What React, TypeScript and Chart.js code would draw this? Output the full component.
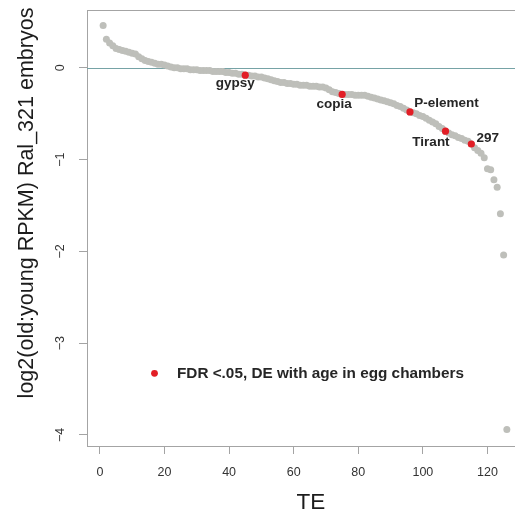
import { useEffect, useRef } from "react";
import { Chart, registerables } from "chart.js";

Chart.register(...registerables);

// log2(old:young RPKM) per transposable element, ranked from highest to lowest
const teValues = [
  0.46, 0.31, 0.27, 0.24, 0.21, 0.2, 0.19, 0.18, 0.17, 0.16,
  0.15, 0.12, 0.1, 0.08, 0.07, 0.06, 0.05, 0.04, 0.04, 0.03,
  0.02, 0.01, 0.0, 0.0, -0.01, -0.01, -0.01, -0.02, -0.02, -0.02,
  -0.03, -0.03, -0.03, -0.03, -0.04, -0.04, -0.04, -0.04, -0.05, -0.05,
  -0.06, -0.06, -0.07, -0.07, -0.08, -0.08, -0.09, -0.09, -0.1, -0.1,
  -0.11, -0.12, -0.13, -0.14, -0.15, -0.16, -0.16, -0.17, -0.17, -0.18,
  -0.18, -0.19, -0.19, -0.19, -0.2, -0.2, -0.2, -0.21, -0.21, -0.22,
  -0.24, -0.26, -0.27, -0.28, -0.29, -0.29, -0.29, -0.29, -0.3, -0.3,
  -0.3, -0.3, -0.31, -0.32, -0.33, -0.34, -0.35, -0.36, -0.37, -0.38,
  -0.39, -0.41, -0.42, -0.44, -0.46, -0.48, -0.49, -0.5, -0.52, -0.53,
  -0.55, -0.57, -0.59, -0.61, -0.64, -0.66, -0.69, -0.71, -0.73, -0.74,
  -0.76, -0.77, -0.79, -0.8, -0.83, -0.87, -0.9, -0.93, -0.98, -1.1,
  -1.11, -1.22, -1.3, -1.59, -2.04, -3.94,
];

// TEs significantly changed with age in egg chambers (rank position, name)
const highlightRanks = [45, 75, 96, 107, 115];
const highlightNames = ["gypsy", "copia", "P-element", "Tirant", "297"];

const xTicks = [0, 20, 40, 60, 80, 100, 120];
const xTickLabels = ["0", "20", "40", "60", "80", "100", "120"];
const yTicks = [-4, -3, -2, -1, 0];
const yTickLabels = ["\u22124", "\u22123", "\u22122", "\u22121", "0"];

const xTitle = "TE";
const yTitle = "log2(old:young RPKM) Ral_321 embryos";
const legendText = "FDR <.05, DE with age in egg chambers";

const FONT = '"Liberation Sans", Arial, Helvetica, sans-serif';
const GREY = "rgb(190,191,186)";
const RED = "rgb(226,30,38)";
const FRAME = "#a4a4a4";
const ZERO_LINE = "rgb(118,163,166)";

// text placement of each TE name relative to its point (dx to text centre, dy to baseline)
const nameOffsets: Record<string, [number, number]> = {
  gypsy: [-10, 12],
  copia: [-8, 13.5],
  "P-element": [36.5, -5],
  Tirant: [-14.5, 15],
  "297": [16.5, -2.3],
};

const decorations = {
  id: "decorations",
  beforeDatasetsDraw(chart: any) {
    const { ctx, chartArea: a, scales } = chart;
    ctx.save();
    ctx.strokeStyle = FRAME;
    ctx.lineWidth = 1;
    ctx.strokeRect(Math.round(a.left) + 0.5, Math.round(a.top) + 0.5, a.right - a.left, a.bottom - a.top);
    const y0 = Math.round(scales.y.getPixelForValue(0)) + 0.5;
    ctx.strokeStyle = ZERO_LINE;
    ctx.beginPath();
    ctx.moveTo(a.left, y0);
    ctx.lineTo(a.right, y0);
    ctx.stroke();
    ctx.restore();
  },
  afterDraw(chart: any) {
    const { ctx, scales } = chart;
    const xs = scales.x;
    const ys = scales.y;
    ctx.save();

    // names of highlighted TEs
    ctx.fillStyle = "#262626";
    ctx.font = `bold 13.5px ${FONT}`;
    ctx.textAlign = "center";
    ctx.textBaseline = "alphabetic";
    highlightRanks.forEach((rank, i) => {
      const name = highlightNames[i];
      const [dx, dy] = nameOffsets[name];
      const px = xs.getPixelForValue(rank);
      const py = ys.getPixelForValue(teValues[rank - 1]);
      ctx.fillText(name, px + dx, py + dy);
    });

    // y tick labels, parallel to the axis
    ctx.fillStyle = "#333";
    ctx.font = `12.5px ${FONT}`;
    ctx.textBaseline = "middle";
    yTicks.forEach((v, i) => {
      ctx.save();
      ctx.translate(61, ys.getPixelForValue(v));
      ctx.rotate(-Math.PI / 2);
      ctx.fillText(yTickLabels[i], 0, 0);
      ctx.restore();
    });

    // axis titles
    ctx.fillStyle = "#1c1c1c";
    ctx.font = `21.5px ${FONT}`;
    ctx.save();
    ctx.translate(27, 203);
    ctx.rotate(-Math.PI / 2);
    ctx.fillText(yTitle, 0, 0);
    ctx.restore();
    ctx.font = `22.5px ${FONT}`;
    ctx.fillText(xTitle, 311, 503);

    // legend
    ctx.fillStyle = RED;
    ctx.beginPath();
    ctx.arc(154.5, 373.3, 3.4, 0, Math.PI * 2);
    ctx.fill();
    ctx.fillStyle = "#262626";
    ctx.font = `bold 15.3px ${FONT}`;
    ctx.textAlign = "left";
    ctx.textBaseline = "alphabetic";
    ctx.fillText(legendText, 177, 378);

    ctx.restore();
  },
};

export default function App() {
  const canvasRef = useRef<HTMLCanvasElement | null>(null);

  useEffect(() => {
    const canvas = canvasRef.current;
    if (!canvas) return;
    Chart.defaults.font.family = FONT;

    const allPoints = teValues.map((v, i) => ({ x: i + 1, y: v }));
    const flagged = highlightRanks.map((r) => ({ x: r, y: teValues[r - 1] }));

    const chart = new Chart(canvas, {
      type: "scatter",
      data: {
        datasets: [
          {
            label: legendText,
            data: flagged,
            backgroundColor: RED,
            borderWidth: 0,
            pointRadius: 3.6,
            order: 0,
          },
          {
            label: "TE",
            data: allPoints,
            backgroundColor: GREY,
            borderWidth: 0,
            pointRadius: 3.5,
            order: 1,
          },
        ],
      },
      options: {
        responsive: false,
        animation: false,
        events: [],
        layout: { padding: { top: 10, right: 17, left: 0, bottom: 0 } },
        plugins: { legend: { display: false }, tooltip: { enabled: false } },
        scales: {
          x: {
            type: "linear",
            min: -4,
            max: 131,
            afterFit: (s: any) => {
              s.height = 68;
            },
            afterBuildTicks: (s: any) => {
              s.ticks = xTicks.map((v) => ({ value: v }));
            },
            border: { display: false },
            grid: {
              drawOnChartArea: false,
              drawTicks: true,
              tickLength: 8,
              color: FRAME,
            },
            ticks: {
              autoSkip: false,
              maxRotation: 0,
              padding: 11.5,
              color: "#333",
              font: { size: 12.5 },
              callback: (v: any) => xTickLabels[xTicks.indexOf(Number(v))] ?? "",
            },
          },
          y: {
            type: "linear",
            min: -4.12,
            max: 0.63,
            afterFit: (s: any) => {
              s.width = 87;
            },
            afterBuildTicks: (s: any) => {
              s.ticks = yTicks.map((v) => ({ value: v }));
            },
            border: { display: false },
            grid: {
              drawOnChartArea: false,
              drawTicks: true,
              tickLength: 8,
              color: FRAME,
            },
            ticks: { display: false },
          },
        },
      },
      plugins: [decorations],
    });

    return () => chart.destroy();
  }, []);

  return (
    <div
      style={{
        position: "fixed",
        left: 0,
        top: 0,
        width: 515,
        height: 514,
        overflow: "hidden",
        background: "#fff",
      }}
    >
      <canvas ref={canvasRef} width={540} height={514} style={{ display: "block" }} />
    </div>
  );
}
